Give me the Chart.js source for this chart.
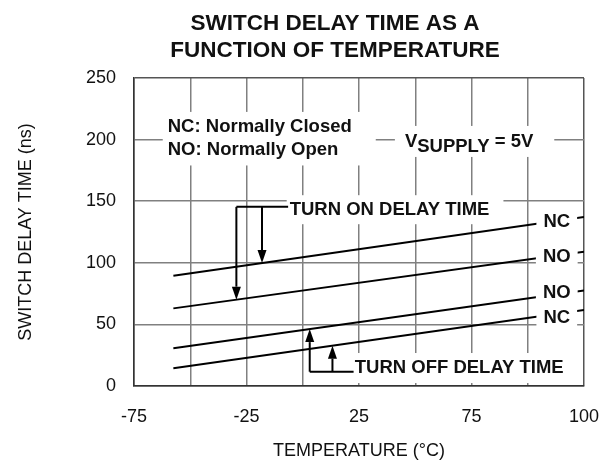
<!DOCTYPE html>
<html><head><meta charset="utf-8">
<script src="https://cdn.jsdelivr.net/npm/chart.js@4/dist/chart.umd.min.js"></script>
<style>html,body{margin:0;padding:0;background:#fff}#wrap{width:600px;height:465px}</style>
</head><body><div id="wrap"><canvas id="c" width="600" height="465"></canvas></div>
<script>
// ---------- data ----------
const titleLines = ['SWITCH DELAY TIME AS A', 'FUNCTION OF TEMPERATURE'];
const xTickValues = [-75, -50, -25, 0, 25, 50, 75, 100, 125];
const xTickLabels = ['-75', '', '-25', '', '25', '', '75', '', '100'];
const yTickValues = [0, 50, 100, 150, 200, 250];
const temps = [-57.5, 125];
const ncOn  = [89.5, 137.2];
const noOn  = [63.0, 109.0];
const noOff = [30.6, 77.5];
const ncOff = [14.4, 61.7];
const seriesNames = ['NC', 'NO', 'NO', 'NC'];
const seriesValues = [ncOn, noOn, noOff, ncOff];

// ---------- annotation layout (data units) ----------
const textBlocks = [
  {lines: ['NC: Normally Closed', 'NO: Normally Open'], t: -60, v: [210.3, 192.0], pad: [5, 24, 15, 16]},
  {parts: [['V', 0], ['SUPPLY', 5], [' = 5V', 0]], t: 45.4, v: [198.1], pad: [10, 21, 16, 15]},
  {lines: ['TURN ON DELAY TIME'], t: -5.8, v: [142.7], pad: [3, 14, 15, 14]},
  {lines: ['TURN OFF DELAY TIME'], t: 23.1, v: [14.6], pad: [5, 11, 15, 15]}
];
const seriesLabelT = 112.9;
const seriesLabelV = [133.3, 104.9, 75.2, 54.9];
const brackets = [
  {arrowT: [-29.5, -18.1], targets: [noOn, ncOn], barV: 145.4, barEndT: -6.5, dir: 'down'},
  {arrowT: [3.1, 13.2], targets: [noOff, ncOff], barV: 11.6, barEndT: 22.6, dir: 'up'}
];

const FONT = '"Liberation Sans", Arial, sans-serif';
const ANN_FONT = 'bold 18.5px ' + FONT;
Chart.defaults.font.family = FONT;
Chart.defaults.color = '#111';

function interp(xs, ys, t) { const f = (t - xs[0]) / (xs[1] - xs[0]); return ys[0] + f * (ys[1] - ys[0]); }

const overlay = {
  id: 'overlay',
  afterDatasetsDraw(chart) {
    const ctx = chart.ctx, X = chart.scales.x, Y = chart.scales.y;
    ctx.save();
    ctx.font = ANN_FONT;
    ctx.textBaseline = 'middle';
    ctx.textAlign = 'left';
    textBlocks.forEach(b => {
      const x = X.getPixelForValue(b.t);
      const ys = b.v.map(v => Y.getPixelForValue(v));
      let w;
      if (b.lines) w = Math.max(...b.lines.map(l => ctx.measureText(l).width));
      else w = b.parts.reduce((s, p) => s + ctx.measureText(p[0]).width, 0);
      const [pl, pr, pt, pb] = b.pad;
      ctx.fillStyle = '#fff';
      ctx.fillRect(x - pl, ys[0] - pt, w + pl + pr, ys[ys.length - 1] - ys[0] + pt + pb);
      ctx.fillStyle = '#111';
      if (b.lines) b.lines.forEach((l, i) => ctx.fillText(l, x, ys[i]));
      else {
        let cx = x;
        b.parts.forEach(p => { ctx.fillText(p[0], cx, ys[0] + p[1]); cx += ctx.measureText(p[0]).width; });
      }
    });
    ctx.textAlign = 'center';
    const lx = X.getPixelForValue(seriesLabelT);
    seriesNames.forEach((n, i) => {
      const y = Y.getPixelForValue(seriesLabelV[i]);
      const w = ctx.measureText(n).width;
      ctx.fillStyle = '#fff';
      ctx.fillRect(lx - w / 2 - 7, y - 10, w + 14, 20);
      ctx.fillStyle = '#111';
      ctx.fillText(n, lx, y);
    });
    ctx.strokeStyle = '#000';
    ctx.fillStyle = '#000';
    ctx.lineWidth = 2;
    brackets.forEach(br => {
      const by = Y.getPixelForValue(br.barV);
      const x0 = X.getPixelForValue(br.arrowT[0]);
      ctx.beginPath();
      ctx.moveTo(x0, by);
      ctx.lineTo(X.getPixelForValue(br.barEndT), by);
      ctx.stroke();
      br.arrowT.forEach((t, i) => {
        const ax = X.getPixelForValue(t);
        const tip = Y.getPixelForValue(interp(temps, br.targets[i], t));
        const s = br.dir === 'down' ? -1 : 1;
        const head = 13, half = 4.5;
        ctx.beginPath();
        ctx.moveTo(ax, by);
        ctx.lineTo(ax, tip + s * head);
        ctx.stroke();
        ctx.beginPath();
        ctx.moveTo(ax, tip);
        ctx.lineTo(ax - half, tip + s * head);
        ctx.lineTo(ax + half, tip + s * head);
        ctx.closePath();
        ctx.fill();
      });
    });
    ctx.font = 'bold 22.5px ' + FONT;
    ctx.textAlign = 'center';
    ctx.fillStyle = '#111';
    ctx.fillText(titleLines[0], 335, 23.5);
    ctx.fillText(titleLines[1], 335, 51);
    ctx.restore();
  }
};

const datasets = seriesValues.map((vals, i) => ({
  label: seriesNames[i],
  data: temps.map((t, j) => ({x: t, y: vals[j]})),
  borderColor: '#000',
  borderWidth: 2,
  pointRadius: 0,
  tension: 0,
  fill: false
}));

const gridColor = ctx => (ctx.index === 0 || ctx.index === ctx.scale.ticks.length - 1) ? '#555' : '#808080';

new Chart(document.getElementById('c'), {
  type: 'line',
  data: {datasets},
  plugins: [overlay],
  options: {
    responsive: false,
    animation: false,
    devicePixelRatio: 1,
    layout: {padding: {top: 78, right: 16, bottom: 0, left: 0}},
    plugins: {legend: {display: false}, tooltip: {enabled: false}, title: {display: false}},
    scales: {
      x: {
        type: 'linear', min: -75, max: 125,
        afterBuildTicks: s => { s.ticks = xTickValues.map(v => ({value: v})); },
        afterFit: s => { s.height = 79; s.paddingLeft = 0; s.paddingRight = 0; },
        ticks: {
          font: {size: 18}, color: '#111', padding: 20, maxRotation: 0, autoSkip: false,
          callback: v => xTickLabels[xTickValues.indexOf(v)]
        },
        grid: {color: gridColor, lineWidth: 1.5, drawTicks: false},
        border: {color: '#333', width: 1.5},
        title: {display: true, text: 'TEMPERATURE (°C)', font: {size: 18}, color: '#111', padding: {top: 0, bottom: 3}}
      },
      y: {
        type: 'linear', min: 0, max: 250,
        afterBuildTicks: s => { s.ticks = yTickValues.map(v => ({value: v})); },
        afterFit: s => { s.width = 134; s.paddingTop = 0; s.paddingBottom = 0; },
        ticks: {font: {size: 18}, color: '#111', padding: 18},
        grid: {color: gridColor, lineWidth: 1.5, drawTicks: false},
        border: {color: '#333', width: 1.5},
        title: {display: true, text: 'SWITCH DELAY TIME (ns)', font: {size: 18}, color: '#111', padding: {top: 15, bottom: 0}}
      }
    }
  }
});
</script>
</body></html>
